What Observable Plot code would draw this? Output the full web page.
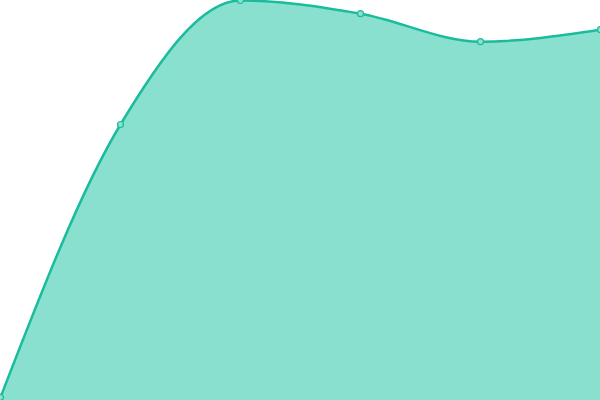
<!DOCTYPE html>
<html>
<head>
<meta charset="utf-8">
<script src="https://cdn.jsdelivr.net/npm/d3@7"></script>
<script src="https://cdn.jsdelivr.net/npm/@observablehq/plot@0.6"></script>
<style>
html, body { margin: 0; padding: 0; background: #fff; }
#chart svg { display: block; }
</style>
</head>
<body>
<div id="chart"></div>
<script>
const xs = [0, 1, 2, 3, 4, 5];
const values = [8, 690, 1000, 967, 897, 927];
const data = xs.map((x, i) => ({x, y: values[i]}));

const chart = Plot.plot({
  width: 600,
  height: 400,
  margin: 0,
  x: {domain: [0, 5], axis: null},
  y: {domain: [0, 1000], axis: null},
  marks: [
    Plot.areaY(data, {x: "x", y: "y", curve: "monotone-x", fill: "#89e0ce"}),
    Plot.lineY(data, {x: "x", y: "y", curve: "monotone-x", stroke: "#1abc9c", strokeWidth: 2.5}),
    Plot.dot(data, {x: "x", y: "y", r: 3, fill: "#8ce0cd", stroke: "#1abc9c", strokeWidth: 1.2})
  ]
});
document.getElementById("chart").appendChild(chart);
</script>
</body>
</html>
